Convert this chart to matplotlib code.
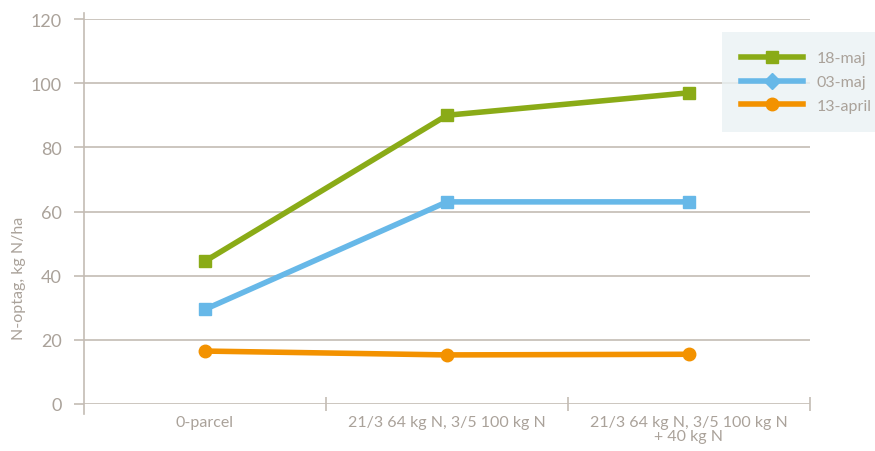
import matplotlib
matplotlib.use("Agg")
import matplotlib.pyplot as plt
from matplotlib.lines import Line2D

categories = ["0-parcel", "21/3 64 kg N, 3/5 100 kg N", "21/3 64 kg N, 3/5 100 kg N\n+ 40 kg N"]
series_names = ["18-maj", "03-maj", "13-april"]
maj18 = [44.5, 90, 97]
maj03 = [29.5, 63, 63]
april13 = [16.5, 15.3, 15.5]
yticks = [0, 20, 40, 60, 80, 100, 120]
ylabel = "N-optag, kg N/ha"

plt.rcParams['font.family'] = ['Lato', 'DejaVu Sans']
txt = "#aaa29a"
gridc = "#c4bcb4"
colors = ["#8aab17", "#67b8e8", "#f39200"]

fig = plt.figure(figsize=(8.75, 4.52), dpi=100)
ax = fig.add_axes([84/875, 1-405/452, (810-84)/875, (405-20)/452])

xs = [i + 0.5 for i in range(len(categories))]
ax.plot(xs, maj18, color=colors[0], lw=4, marker="s", ms=9, zorder=3)
ax.plot(xs, maj03, color=colors[1], lw=4, marker="s", ms=9, zorder=3)
ax.plot(xs, april13, color=colors[2], lw=4, marker="o", ms=9, zorder=3)

ax.set_xlim(0, 3)
ax.set_ylim(0, 120)
ax.set_yticks(yticks)
ax.yaxis.grid(True, color=gridc, lw=1.2)
ax.set_axisbelow(True)
for s in ["top", "right", "bottom"]:
    ax.spines[s].set_visible(False)
ax.spines["left"].set_color(gridc)
ax.spines["left"].set_linewidth(1.2)
ax.spines["left"].set_bounds(-3, 122)
ax.tick_params(axis="y", colors=gridc, length=7, width=1.2, labelcolor=txt, labelsize=13, pad=9)
ax.set_xticks([1, 2, 3])
ax.set_xticklabels([])
ax.set_xticks(xs, minor=True)
ax.set_xticklabels(categories, minor=True, color=txt, fontsize=11.5, linespacing=1.0)
ax.tick_params(axis="x", which="major", colors=gridc, length=10, width=1.2, direction="inout")
ax.tick_params(axis="x", which="minor", length=0, pad=8)
ax.set_ylabel(ylabel, color=txt, fontsize=11.5, labelpad=6)
ax.yaxis.set_label_coords(-0.080, 0.33)
for lab in ax.get_xticklabels(minor=True):
    lab.set_verticalalignment("top")

handles = [
    Line2D([], [], color=colors[0], lw=4, marker="s", ms=9),
    Line2D([], [], color=colors[1], lw=4, marker="D", ms=8),
    Line2D([], [], color=colors[2], lw=4, marker="o", ms=9),
]
leg = fig.legend(handles, series_names, loc="upper left", bbox_to_anchor=(722/875, 1-33/452),
                 frameon=True, fontsize=11.5, labelcolor=txt, handlelength=3.9,
                 borderpad=1.2, labelspacing=0.6, handletextpad=0.8, borderaxespad=0)
leg.get_frame().set_facecolor("#eaf2f4")
leg.get_frame().set_edgecolor("none")
leg.get_frame().set_boxstyle("square", pad=0)

fig.savefig("out.png", dpi=100)
